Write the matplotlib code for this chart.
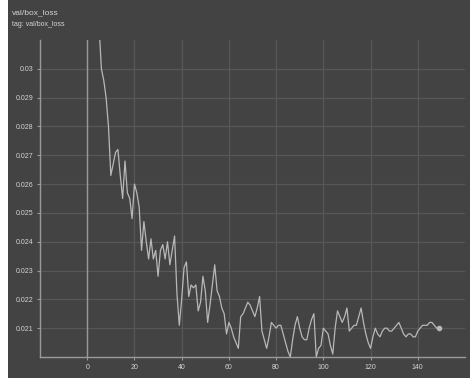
import matplotlib
matplotlib.use("Agg")
import matplotlib.pyplot as plt
from matplotlib.patches import Rectangle
import numpy as np

# validation box loss per epoch
epochs = list(range(150))
box_loss = [
    0.0500, 0.0430, 0.0380, 0.0350, 0.0330, 0.0315, 0.0300, 0.0296, 0.0290, 0.0280,
    0.0263, 0.0267, 0.0271, 0.0272, 0.0263, 0.0255, 0.0268, 0.0257, 0.0255, 0.0248,
    0.0260, 0.0257, 0.0252, 0.0237, 0.0247, 0.0240, 0.0234, 0.0241, 0.0234, 0.0237,
    0.0228, 0.0237, 0.0239, 0.0234, 0.0240, 0.0232, 0.0237, 0.0242, 0.0222, 0.0211,
    0.0220, 0.0231, 0.0233, 0.0221, 0.0225, 0.0224, 0.0225, 0.0216, 0.0219, 0.0228,
    0.0223, 0.0212, 0.0218, 0.0225, 0.0232, 0.0223, 0.0221, 0.0217, 0.0215, 0.0208,
    0.0212, 0.0210, 0.0207, 0.0205, 0.0203, 0.0214, 0.0215, 0.0217, 0.0219, 0.0218,
    0.0216, 0.0214, 0.0217, 0.0221, 0.0209, 0.0206, 0.0203, 0.0207, 0.0212, 0.0211,
    0.0210, 0.0211, 0.0211, 0.0208, 0.0205, 0.0202, 0.0200, 0.0206, 0.0211, 0.0214,
    0.0210, 0.0207, 0.0206, 0.0206, 0.0210, 0.0213, 0.0215, 0.0200, 0.0203, 0.0204,
    0.0210, 0.0209, 0.0208, 0.0204, 0.0201, 0.0210, 0.0216, 0.0214, 0.0212, 0.0214,
    0.0217, 0.0209, 0.0210, 0.0211, 0.0211, 0.0214, 0.0217, 0.0212, 0.0208, 0.0205,
    0.0203, 0.0207, 0.0210, 0.0208, 0.0207, 0.0209, 0.0210, 0.0210, 0.0209, 0.0209,
    0.0210, 0.0211, 0.0212, 0.0210, 0.0208, 0.0207, 0.0208, 0.0208, 0.0207, 0.0207,
    0.0209, 0.0210, 0.0211, 0.0211, 0.0211, 0.0212, 0.0212, 0.0211, 0.0210, 0.0210,
]

x_ticks = [0, 20, 40, 60, 80, 100, 120, 140]
y_ticks = [0.021, 0.022, 0.023, 0.024, 0.025, 0.026, 0.027, 0.028, 0.029, 0.03]
y_tick_labels = ["0.021", "0.022", "0.023", "0.024", "0.025", "0.026",
                 "0.027", "0.028", "0.029", "0.03"]

BG = "#434343"
GRID = "#575757"
AXIS = "#9a9a9a"
LINE = "#b8b8b8"
TEXT = "#d4d4d4"
FONT = ["Liberation Sans Narrow", "Liberation Sans", "DejaVu Sans"]

fig = plt.figure(figsize=(4.70, 3.78), dpi=100, facecolor=BG)
fig.patches.append(Rectangle((0, 0), 8 / 470, 1, transform=fig.transFigure,
                             facecolor="white", edgecolor="none", zorder=0))

ax = fig.add_axes([40 / 470, 1 - 357 / 378, 425 / 470, 317 / 378])
ax.set_facecolor(BG)

ax.set_xlim(-20, 160)
ax.set_ylim(0.020, 0.031)
ax.set_xticks(x_ticks)
ax.set_xticklabels([str(t) for t in x_ticks])
ax.set_yticks(y_ticks)
ax.set_yticklabels(y_tick_labels)

ax.grid(True, color=GRID, linewidth=0.9)
ax.set_axisbelow(True)
for side in ("top", "right"):
    ax.spines[side].set_visible(False)
for side in ("left", "bottom"):
    ax.spines[side].set_color(AXIS)
    ax.spines[side].set_linewidth(1.0)

ax.axvline(0, color=AXIS, linewidth=1.0, zorder=1)

ax.tick_params(axis="both", colors=AXIS, length=2, width=0.8, pad=3,
               labelsize=5, labelcolor=TEXT)
for lbl in ax.get_xticklabels() + ax.get_yticklabels():
    lbl.set_family(FONT)

ax.plot(epochs, box_loss, color=LINE, linewidth=0.9, zorder=3, clip_on=True)
ax.plot(epochs[-1], box_loss[-1], "o", color=LINE, markersize=3, zorder=4)

fig.text(12 / 470, 1 - 13 / 378, "val/box_loss", color=TEXT, fontsize=6,
         family=FONT, va="center", ha="left")
fig.text(12 / 470, 1 - 24 / 378, "tag: val/box_loss", color=TEXT, fontsize=5,
         family=FONT, va="center", ha="left")

fig.savefig("out.png", dpi=100, facecolor=BG)
